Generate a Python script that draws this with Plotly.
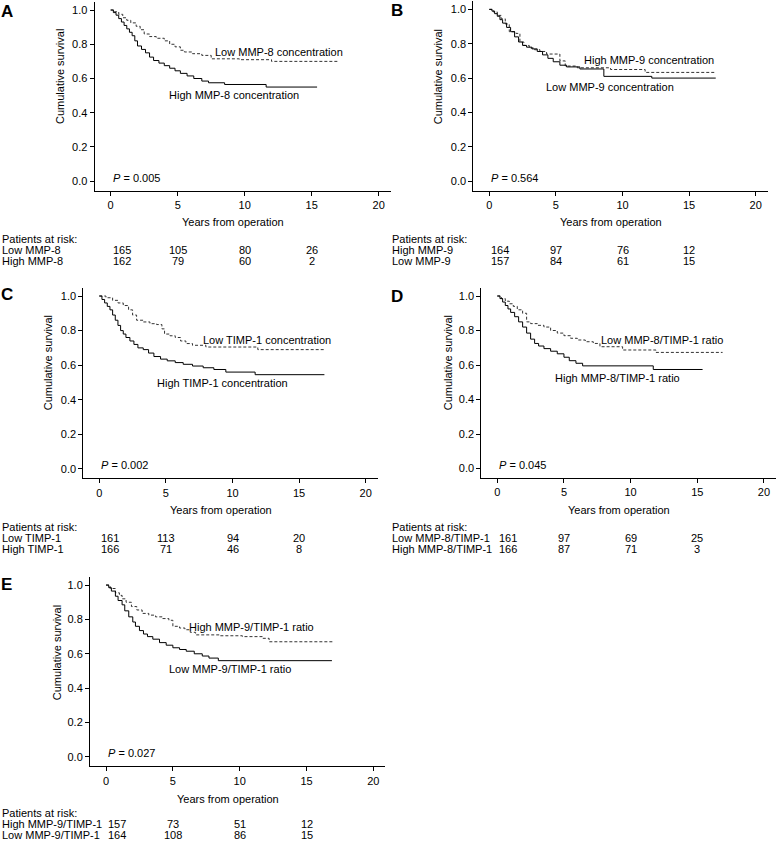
import plotly.graph_objects as go

W, H = 777, 842
FONT = "Liberation Sans, Arial, sans-serif"

# ---- survival curves (years, cumulative survival) ----
# A: MMP-8
a_low_t = [0, 0.3, 0.6, 0.9, 1.2, 1.5, 1.9, 2.2, 2.5, 2.9, 3.4, 4.0, 4.4, 4.8, 5.2, 5.5, 6.1, 6.8, 7.5, 9.6, 12.0, 17.0]
a_low_s = [1.0, 0.99, 0.975, 0.955, 0.94, 0.925, 0.905, 0.885, 0.86, 0.845, 0.835, 0.82, 0.80, 0.785, 0.765, 0.755, 0.745, 0.735, 0.715, 0.71, 0.70, 0.70]
a_high_t = [0, 0.2, 0.4, 0.6, 0.8, 1.0, 1.2, 1.4, 1.6, 1.8, 2.0, 2.3, 2.6, 2.9, 3.2, 3.6, 4.0, 4.4, 4.8, 5.2, 5.7, 6.2, 6.8, 7.3, 8.5, 11.6, 15.4]
a_high_s = [1.0, 0.985, 0.97, 0.95, 0.93, 0.91, 0.89, 0.87, 0.85, 0.82, 0.79, 0.77, 0.75, 0.725, 0.705, 0.69, 0.675, 0.66, 0.645, 0.63, 0.615, 0.60, 0.585, 0.575, 0.565, 0.55, 0.55]

# B: MMP-9
b_high_t = [0, 0.3, 0.6, 0.9, 1.2, 1.5, 2.0, 2.3, 2.6, 3.0, 3.4, 3.8, 4.3, 5.3, 5.7, 6.6, 9.1, 11.7, 17.0]
b_high_s = [1.0, 0.985, 0.965, 0.945, 0.915, 0.87, 0.86, 0.81, 0.79, 0.775, 0.765, 0.755, 0.74, 0.70, 0.67, 0.66, 0.65, 0.633, 0.633]
b_low_t = [0, 0.2, 0.4, 0.6, 0.8, 1.0, 1.3, 1.6, 1.9, 2.2, 2.5, 2.8, 3.2, 3.6, 4.0, 4.4, 4.8, 5.3, 5.8, 6.8, 8.6, 12.2, 17.0]
b_low_s = [1.0, 0.99, 0.975, 0.96, 0.94, 0.92, 0.895, 0.87, 0.84, 0.81, 0.79, 0.78, 0.77, 0.755, 0.735, 0.715, 0.695, 0.675, 0.665, 0.653, 0.61, 0.60, 0.60]

# C: TIMP-1
c_low_t = [0, 0.5, 1.0, 1.4, 1.8, 2.2, 2.5, 2.8, 3.3, 3.8, 4.3, 4.7, 4.9, 5.3, 5.7, 6.1, 6.5, 7.0, 8.0, 11.9, 16.9]
c_low_s = [1.0, 0.99, 0.975, 0.96, 0.945, 0.92, 0.89, 0.86, 0.85, 0.84, 0.835, 0.81, 0.78, 0.77, 0.76, 0.74, 0.725, 0.715, 0.705, 0.69, 0.69]
c_high_t = [0, 0.2, 0.4, 0.6, 0.8, 1.0, 1.2, 1.4, 1.6, 1.8, 2.0, 2.3, 2.6, 2.9, 3.3, 3.7, 4.1, 4.6, 5.1, 5.7, 6.3, 7.0, 7.8, 8.6, 9.5, 11.7, 16.9]
c_high_s = [1.0, 0.98, 0.96, 0.94, 0.92, 0.89, 0.86, 0.83, 0.80, 0.78, 0.76, 0.74, 0.72, 0.70, 0.69, 0.67, 0.65, 0.635, 0.625, 0.615, 0.605, 0.595, 0.585, 0.575, 0.56, 0.545, 0.545]

# D: MMP-8/TIMP-1 ratio
d_low_t = [0, 0.3, 0.6, 0.9, 1.2, 1.5, 1.9, 2.2, 2.5, 3.0, 3.5, 4.0, 4.5, 5.0, 5.5, 6.0, 6.6, 7.2, 7.7, 9.4, 11.9, 16.9]
d_low_s = [1.0, 0.985, 0.97, 0.955, 0.94, 0.92, 0.90, 0.85, 0.84, 0.83, 0.82, 0.80, 0.785, 0.77, 0.755, 0.745, 0.735, 0.725, 0.706, 0.687, 0.673, 0.673]
d_high_t = [0, 0.2, 0.4, 0.6, 0.8, 1.0, 1.3, 1.6, 1.9, 2.2, 2.5, 2.8, 3.1, 3.5, 4.0, 4.5, 5.0, 5.4, 5.9, 6.4, 11.7, 15.4]
d_high_s = [1.0, 0.985, 0.965, 0.945, 0.925, 0.905, 0.88, 0.85, 0.82, 0.785, 0.75, 0.725, 0.71, 0.695, 0.68, 0.665, 0.645, 0.625, 0.61, 0.595, 0.574, 0.574]

# E: MMP-9/TIMP-1 ratio
e_high_t = [0, 0.3, 0.7, 1.0, 1.2, 1.5, 1.9, 2.3, 2.7, 3.2, 3.7, 4.2, 4.7, 5.0, 5.5, 5.9, 6.3, 6.7, 8.5, 10.2, 11.7, 12.2, 17.0]
e_high_s = [1.0, 0.98, 0.955, 0.94, 0.92, 0.90, 0.875, 0.855, 0.835, 0.825, 0.815, 0.805, 0.795, 0.76, 0.75, 0.74, 0.725, 0.71, 0.705, 0.70, 0.69, 0.67, 0.67]
e_low_t = [0, 0.2, 0.4, 0.7, 0.9, 1.2, 1.4, 1.7, 2.0, 2.2, 2.5, 2.8, 3.1, 3.5, 4.0, 4.5, 5.0, 5.5, 6.0, 6.6, 7.2, 7.7, 8.4, 16.9]
e_low_s = [1.0, 0.985, 0.965, 0.935, 0.91, 0.885, 0.85, 0.815, 0.785, 0.76, 0.735, 0.715, 0.70, 0.685, 0.665, 0.65, 0.635, 0.625, 0.615, 0.60, 0.587, 0.575, 0.56, 0.56]

# ---- patients at risk ----
risk_years = [0, 5, 10, 15]
a_risk_names = ["Low MMP-8", "High MMP-8"]
a_risk = [[165, 105, 80, 26], [162, 79, 60, 2]]
b_risk_names = ["High MMP-9", "Low MMP-9"]
b_risk = [[164, 97, 76, 12], [157, 84, 61, 15]]
c_risk_names = ["Low TIMP-1", "High TIMP-1"]
c_risk = [[161, 113, 94, 20], [166, 71, 46, 8]]
d_risk_names = ["Low MMP-8/TIMP-1", "High MMP-8/TIMP-1"]
d_risk = [[161, 97, 69, 25], [166, 87, 71, 3]]
e_risk_names = ["High MMP-9/TIMP-1", "Low MMP-9/TIMP-1"]
e_risk = [[157, 73, 51, 12], [164, 108, 86, 15]]

p_values = ["0.005", "0.564", "0.002", "0.045", "0.027"]
letters = ["A", "B", "C", "D", "E"]

# panel setup: curves (dashed, solid), labels, pixel boxes
panels = [
    dict(dashed=(a_low_t, a_low_s, "Low MMP-8 concentration", 7.6, 0.756),
         solid=(a_high_t, a_high_s, "High MMP-8 concentration", 4.18, 0.503),
         names=a_risk_names, risk=a_risk,
         box=(94.6, 390.8, 2, 190.6), letter=(6.7, 11), ytitle=(60, 77), xtitle=(232.5, 222),
         rows_x=0, rows_y=(239, 250, 261)),
    dict(dashed=(b_high_t, b_high_s, "High MMP-9 concentration", 6.94, 0.705),
         solid=(b_low_t, b_low_s, "Low MMP-9 concentration", 4.1, 0.546),
         names=b_risk_names, risk=b_risk,
         box=(473.3, 767.7, 1.3, 190.6), letter=(396.5, 10), ytitle=(438.3, 77), xtitle=(610.8, 222),
         rows_x=390, rows_y=(239, 250, 261)),
    dict(dashed=(c_low_t, c_low_s, "Low TIMP-1 concentration", 7.63, 0.745),
         solid=(c_high_t, c_high_s, "High TIMP-1 concentration", 4.2, 0.494),
         names=c_risk_names, risk=c_risk,
         box=(83.3, 377.7, 287.9, 478.4), letter=(6.5, 295), ytitle=(48.3, 363), xtitle=(220.7, 510),
         rows_x=0, rows_y=(527, 538, 549)),
    dict(dashed=(d_low_t, d_low_s, "Low MMP-8/TIMP-1 ratio", 7.65, 0.745),
         solid=(d_high_t, d_high_s, "High MMP-8/TIMP-1 ratio", 4.2, 0.526),
         names=d_risk_names, risk=d_risk,
         box=(481.3, 775.9, 287.9, 478), letter=(396.5, 296), ytitle=(448.3, 363), xtitle=(619, 510),
         rows_x=390, rows_y=(527, 538, 549)),
    dict(dashed=(e_high_t, e_high_s, "High MMP-9/TIMP-1 ratio", 6.03, 0.757),
         solid=(e_low_t, e_low_s, "Low MMP-9/TIMP-1 ratio", 4.54, 0.509),
         names=e_risk_names, risk=e_risk,
         box=(90, 385.4, 577, 766.3), letter=(6.3, 584), ytitle=(56.7, 652.5), xtitle=(227.7, 799),
         rows_x=0, rows_y=(813, 824, 835)),
]


def px(x):
    return x / W


def py(y):
    return 1 - y / H


fig = go.Figure()
annotations = []
txt = dict(family=FONT, size=11, color="black")

for i, p in enumerate(panels):
    n = "" if i == 0 else str(i + 1)
    xref, yref = "x" + n, "y" + n
    x0, x1, y0, y1 = p["box"]

    # curves
    for key, dash, col in [("dashed", "3px,2px", "#333333"), ("solid", "solid", "black")]:
        t, s, label, lx, ly = p[key]
        fig.add_trace(go.Scatter(x=t, y=s, mode="lines", line_shape="hv",
                                 line=dict(color=col, width=1, dash=dash),
                                 xaxis=xref, yaxis=yref, showlegend=False, hoverinfo="skip"))
        annotations.append(dict(x=lx, y=ly, xref=xref, yref=yref, text=label, showarrow=False,
                                xanchor="left", yanchor="middle", font=txt))

    axis_common = dict(showline=True, linecolor="black", linewidth=1, ticks="outside",
                       ticklen=4, tickcolor="black", tickwidth=1, showgrid=False,
                       zeroline=False, tickfont=txt)
    fig.update_layout({
        "xaxis" + n: dict(axis_common, domain=[px(x0), px(x1)], range=[-1.2, 20.9],
                          tickvals=[0, 5, 10, 15, 20], anchor=yref),
        "yaxis" + n: dict(axis_common, domain=[py(y1), py(y0)], range=[-0.055, 1.047],
                          tickvals=[0, 0.2, 0.4, 0.6, 0.8, 1.0], tickformat=".1f", anchor=xref),
    })

    # P value
    annotations.append(dict(x=0, y=0.02, xref=xref, yref=yref, text="<i>P</i> = " + p_values[i],
                            showarrow=False, xanchor="left", yanchor="middle", font=txt))
    # panel letter
    annotations.append(dict(x=px(p["letter"][0]), y=py(p["letter"][1]), xref="paper", yref="paper",
                            text="<b>" + letters[i] + "</b>", showarrow=False,
                            xanchor="center", yanchor="middle",
                            font=dict(family=FONT, size=17, color="black")))
    # axis titles
    annotations.append(dict(x=px(p["ytitle"][0]), y=py(p["ytitle"][1]), xref="paper", yref="paper",
                            text="Cumulative survival", textangle=-90, showarrow=False,
                            xanchor="center", yanchor="middle", font=txt))
    annotations.append(dict(x=px(p["xtitle"][0]), y=py(p["xtitle"][1]), xref="paper", yref="paper",
                            text="Years from operation", showarrow=False,
                            xanchor="center", yanchor="middle", font=txt))

    # patients at risk table
    hy, r1, r2 = p["rows_y"]
    annotations.append(dict(x=px(p["rows_x"]), y=py(hy), xref="paper", yref="paper",
                            text="Patients at risk:", showarrow=False,
                            xanchor="left", yanchor="middle", font=txt))
    for name, counts, ry in zip(p["names"], p["risk"], (r1, r2)):
        annotations.append(dict(x=px(p["rows_x"]), y=py(ry), xref="paper", yref="paper",
                                text=name, showarrow=False, xanchor="left", yanchor="middle", font=txt))
        for yr, c in zip(risk_years, counts):
            annotations.append(dict(x=yr, y=py(ry), xref=xref, yref="paper", text=str(c),
                                    showarrow=False, xanchor="left" if yr == 0 else "center",
                                    yanchor="middle", font=txt))

fig.update_layout(width=W, height=H, margin=dict(l=0, r=0, t=0, b=0),
                  paper_bgcolor="white", plot_bgcolor="white",
                  font=dict(family=FONT, size=11, color="black"),
                  annotations=annotations, showlegend=False)

# page body has a default 8px margin; drop it so the figure fills the window
fig.write_html("out.html", config={"displayModeBar": False},
               post_script="document.body.style.margin='0';document.body.style.overflow='hidden';")
